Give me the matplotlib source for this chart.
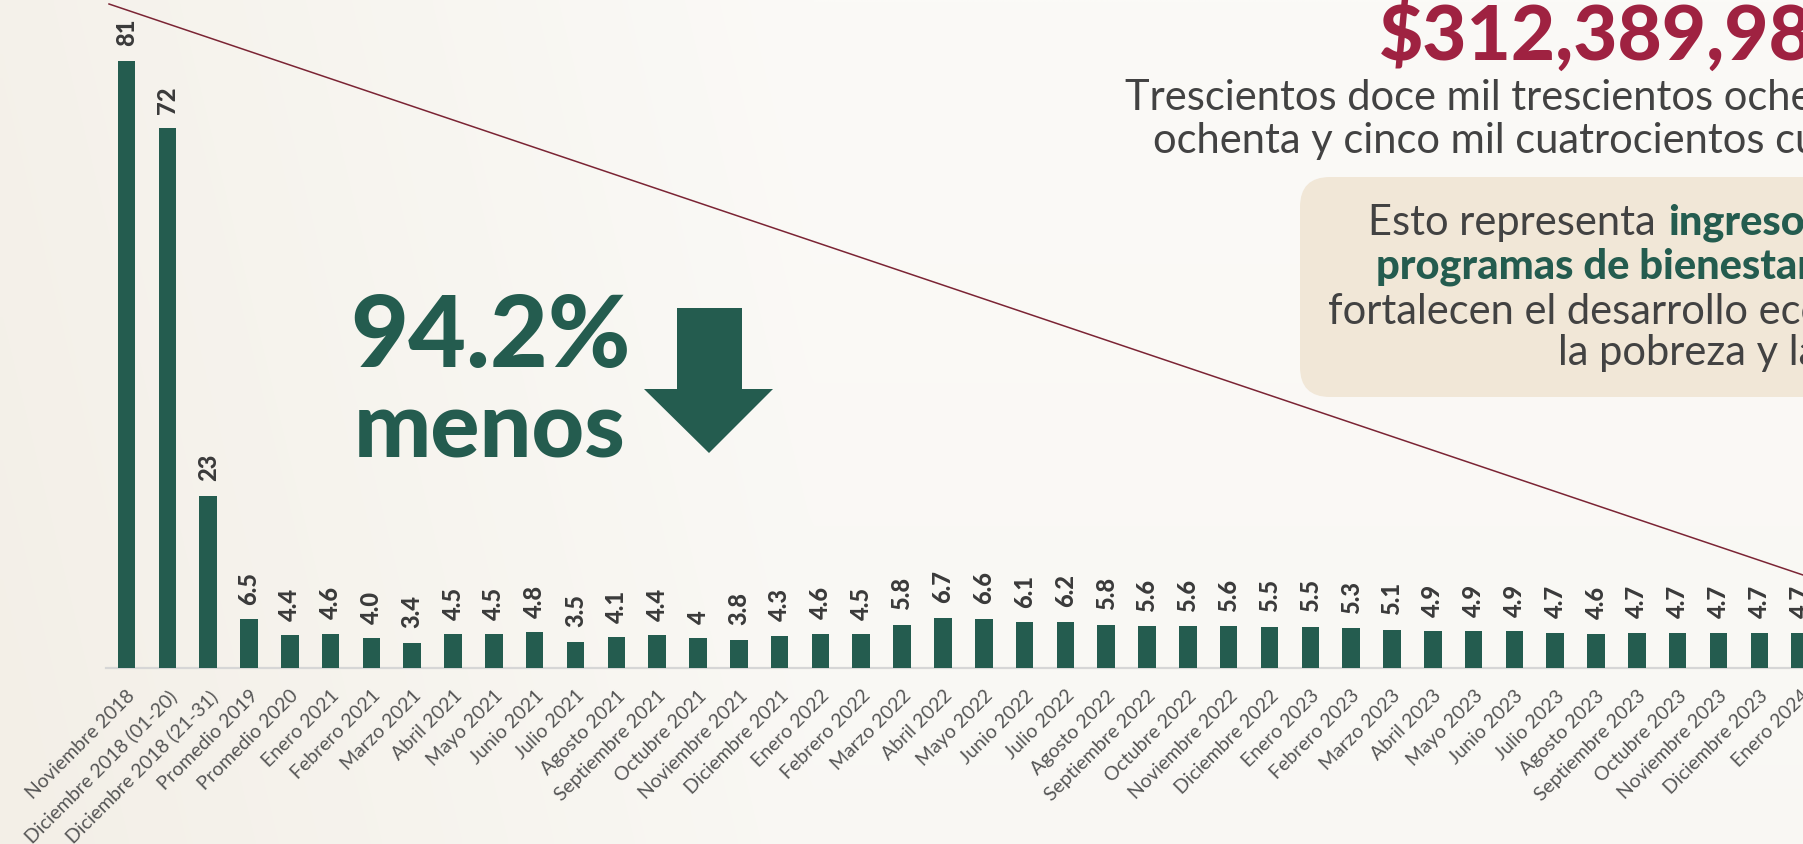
import matplotlib
matplotlib.use("Agg")
import matplotlib.pyplot as plt
import matplotlib.transforms as mtransforms
from matplotlib.patches import FancyBboxPatch, Polygon
from matplotlib.lines import Line2D
import numpy as np

# DATA
###########################
categories = [
    "Noviembre 2018", "Diciembre 2018 (01-20)", "Diciembre 2018 (21-31)",
    "Promedio 2019", "Promedio 2020",
    "Enero 2021", "Febrero 2021", "Marzo 2021", "Abril 2021", "Mayo 2021",
    "Junio 2021", "Julio 2021", "Agosto 2021", "Septiembre 2021",
    "Octubre 2021", "Noviembre 2021", "Diciembre 2021",
    "Enero 2022", "Febrero 2022", "Marzo 2022", "Abril 2022", "Mayo 2022",
    "Junio 2022", "Julio 2022", "Agosto 2022", "Septiembre 2022",
    "Octubre 2022", "Noviembre 2022", "Diciembre 2022",
    "Enero 2023", "Febrero 2023", "Marzo 2023", "Abril 2023", "Mayo 2023",
    "Junio 2023", "Julio 2023", "Agosto 2023", "Septiembre 2023",
    "Octubre 2023", "Noviembre 2023", "Diciembre 2023", "Enero 2024",
]
value_labels = [
    "81", "72", "23", "6.5", "4.4",
    "4.6", "4.0", "3.4", "4.5", "4.5", "4.8", "3.5", "4.1", "4.4", "4", "3.8", "4.3",
    "4.6", "4.5", "5.8", "6.7", "6.6", "6.1", "6.2", "5.8", "5.6", "5.6", "5.6", "5.5",
    "5.5", "5.3", "5.1", "4.9", "4.9", "4.9", "4.7", "4.6", "4.7", "4.7", "4.7", "4.7",
    "4.7",
]
values = [float(v) for v in value_labels]
###########################

GREEN = "#245c4f"
MAROON = "#9f2241"
TEXT = "#424242"
BG = "#f9f7f3"
BOX = "#f1e7d7"

W, H = 1803, 845
fig = plt.figure(figsize=(W / 100, H / 100), dpi=100)
fig.patch.set_facecolor(BG)
plt.rcParams["font.family"] = ["Lato", "DejaVu Sans"]

# pixel coords, origin top-left
pxt = mtransforms.Affine2D().scale(1 / W, -1 / H).translate(0, 1) + fig.transFigure

# soft background: beige on the left fading to near white
bg_ax = fig.add_axes([0, 0, 1, 1], zorder=-5)
bg_ax.axis("off")
gx = np.linspace(0, 1, 300)
gy = np.linspace(0, 1, 150)[:, None]
t = np.clip(gx / 0.45, 0, 1) * 0.8 + 0.2 * (1 - gy)
beige = np.array([243, 239, 231]) / 255
white = np.array([251, 250, 247]) / 255
img = beige[None, None, :] * (1 - t[..., None]) + white[None, None, :] * t[..., None]
bg_ax.imshow(img, aspect="auto", extent=[0, 1, 0, 1], interpolation="bilinear")

# chart axes: bottom at baseline y=669, bars pitch ~40.8 px
left_px, base_px = 106, 669
ax = fig.add_axes([left_px / W, 1 - base_px / H, 1 - left_px / W, base_px / H])
ax.patch.set_alpha(0)
x = list(range(len(values)))
ax.bar(x, values, width=0.43, color=GREEN, zorder=3)
ax.set_xlim(-0.502, 41.07)
ax.set_ylim(0, 89.2)

for s in ["top", "right", "left"]:
    ax.spines[s].set_visible(False)
ax.spines["bottom"].set_color("#d6d6d6")
ax.spines["bottom"].set_linewidth(1.6)
ax.set_yticks([])
ax.set_xticks(x)
ax.set_xticklabels(categories, rotation=45, ha="right", va="top",
                   rotation_mode="anchor", fontsize=14, color="#555555")
ax.tick_params(axis="x", length=0, pad=13)

for xi, v, tx in zip(x, values, value_labels):
    ax.annotate(tx, (xi, v), xytext=(0, 11), textcoords="offset points",
                rotation=90, ha="center", va="bottom", fontsize=17,
                fontweight="black", color="#3a3a3a", annotation_clip=False)

# diagonal accent line
fig.add_artist(Line2D([109, 1803], [5, 576], transform=pxt, color="#7b2434", lw=1.1))

# headline number and text
fig.text(1379, 60, "$312,389,985", transform=pxt, fontsize=55, fontweight="black",
         color=MAROON, va="baseline", ha="left")
fig.text(1125, 110, "Trescientos doce mil trescientos ochenta", transform=pxt,
         fontsize=30, color=TEXT, va="baseline")
fig.text(1153, 153, "ochenta y cinco mil cuatrocientos cuarenta", transform=pxt,
         fontsize=30, color=TEXT, va="baseline")

# beige note box
fig.add_artist(FancyBboxPatch((1300, 178), 620, 220, transform=pxt,
                              boxstyle="round,pad=0,rounding_size=30",
                              facecolor=BOX, edgecolor="none", zorder=1))
fig.text(1368, 235, "Esto representa", transform=pxt, fontsize=30,
         color=TEXT, va="baseline", zorder=2)
fig.text(1668, 235, "ingresos", transform=pxt, fontsize=30,
         fontweight="black", color=GREEN, va="baseline", zorder=2)
fig.text(1376, 279, "programas de bienestar", transform=pxt, fontsize=30,
         fontweight="black", color=GREEN, va="baseline", zorder=2)
fig.text(1328, 324, "fortalecen el desarrollo económico", transform=pxt, fontsize=30,
         color=TEXT, va="baseline", zorder=2)
fig.text(1558, 365, "la pobreza y la", transform=pxt, fontsize=30,
         color=TEXT, va="baseline", zorder=2)

# 94.2% menos callout with arrow
fig.text(490, 367, "94.2%", transform=pxt, fontsize=72, fontweight="black",
         color=GREEN, ha="center", va="baseline")
fig.text(490, 458, "menos", transform=pxt, fontsize=66, fontweight="black",
         color=GREEN, ha="center", va="baseline")
fig.add_artist(Polygon([(677, 309), (742, 309), (742, 390), (773, 390),
                        (709, 454), (644, 390), (677, 390)],
                       closed=True, transform=pxt, facecolor=GREEN, edgecolor="none"))

fig.savefig("out.png", dpi=100, facecolor=BG)
